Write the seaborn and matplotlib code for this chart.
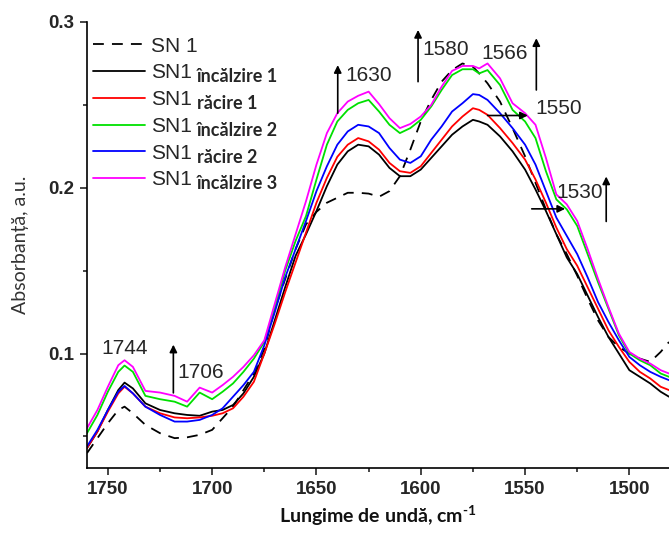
import matplotlib
matplotlib.use("Agg")
import matplotlib.pyplot as plt
import pandas as pd
import seaborn as sns
from matplotlib.ticker import FixedLocator

wavenumber = [
    1760, 1755, 1750, 1745, 1742, 1738, 1732, 1725, 1718, 1712, 1706, 1700, 1695, 1690,
    1685, 1680, 1675, 1670, 1665, 1660, 1655, 1650, 1645, 1640, 1635, 1630, 1625, 1620,
    1615, 1610, 1605, 1600, 1595, 1590, 1585, 1580, 1575, 1572, 1568, 1562, 1556, 1550,
    1545, 1540, 1535, 1530, 1525, 1520, 1515, 1510, 1505, 1500, 1495, 1490, 1485, 1481,
]

sn1 = [
    0.040, 0.049, 0.058, 0.066, 0.068, 0.064, 0.057, 0.052, 0.049, 0.0495, 0.051, 0.054, 0.061, 0.068,
    0.078, 0.088, 0.103, 0.1265, 0.145, 0.163, 0.178, 0.1855, 0.191, 0.194, 0.197, 0.197, 0.1965, 0.1946,
    0.198, 0.207, 0.223, 0.240, 0.253, 0.264, 0.271, 0.275, 0.273, 0.269, 0.263, 0.252, 0.236, 0.219,
    0.203, 0.187, 0.172, 0.160, 0.147, 0.133, 0.120, 0.110, 0.104, 0.100, 0.097, 0.095, 0.101, 0.107,
]
incalzire_1 = [
    0.043, 0.053, 0.066, 0.078, 0.0825, 0.079, 0.070, 0.066, 0.064, 0.063, 0.0625, 0.065, 0.066, 0.069,
    0.076, 0.086, 0.100, 0.120, 0.140, 0.159, 0.172, 0.186, 0.201, 0.214, 0.222, 0.226, 0.225, 0.220,
    0.212, 0.207, 0.207, 0.211, 0.218, 0.225, 0.232, 0.237, 0.241, 0.240, 0.238, 0.231, 0.222, 0.211,
    0.199, 0.186, 0.172, 0.158, 0.148, 0.135, 0.122, 0.110, 0.100, 0.090, 0.086, 0.082, 0.077, 0.074,
]
racire_1 = [
    0.043, 0.053, 0.065, 0.076, 0.080, 0.076, 0.068, 0.064, 0.0615, 0.061, 0.0615, 0.0625, 0.064, 0.067,
    0.074, 0.083, 0.100, 0.118, 0.137, 0.155, 0.173, 0.191, 0.206, 0.2187, 0.226, 0.230, 0.228, 0.223,
    0.215, 0.210, 0.209, 0.213, 0.221, 0.229, 0.237, 0.243, 0.248, 0.247, 0.244, 0.236, 0.227, 0.217,
    0.205, 0.191, 0.176, 0.163, 0.153, 0.140, 0.127, 0.114, 0.104, 0.095, 0.089, 0.085, 0.080, 0.078,
]
incalzire_2 = [
    0.052, 0.063, 0.077, 0.089, 0.0928, 0.089, 0.0745, 0.0725, 0.071, 0.068, 0.0765, 0.0725, 0.077, 0.082,
    0.089, 0.097, 0.107, 0.127, 0.150, 0.168, 0.183, 0.205, 0.226, 0.240, 0.247, 0.251, 0.253, 0.246,
    0.238, 0.233, 0.236, 0.241, 0.249, 0.259, 0.268, 0.2715, 0.2715, 0.269, 0.271, 0.262, 0.247, 0.240,
    0.230, 0.210, 0.193, 0.187, 0.177, 0.160, 0.143, 0.127, 0.111, 0.100, 0.096, 0.093, 0.088, 0.086,
]
racire_2 = [
    0.044, 0.054, 0.066, 0.077, 0.0805, 0.076, 0.068, 0.063, 0.059, 0.059, 0.060, 0.063, 0.067, 0.074,
    0.081, 0.089, 0.105, 0.125, 0.146, 0.163, 0.180, 0.198, 0.213, 0.226, 0.234, 0.238, 0.237, 0.233,
    0.224, 0.217, 0.215, 0.219, 0.229, 0.237, 0.246, 0.251, 0.2565, 0.256, 0.253, 0.245, 0.236, 0.226,
    0.214, 0.198, 0.182, 0.171, 0.160, 0.146, 0.131, 0.119, 0.108, 0.098, 0.093, 0.089, 0.086, 0.084,
]
incalzire_3 = [
    0.055, 0.066, 0.080, 0.093, 0.096, 0.092, 0.0775, 0.0765, 0.0745, 0.071, 0.0795, 0.0765, 0.081, 0.086,
    0.092, 0.099, 0.108, 0.130, 0.152, 0.172, 0.192, 0.214, 0.233, 0.245, 0.252, 0.2555, 0.258, 0.2505,
    0.242, 0.236, 0.2385, 0.243, 0.250, 0.261, 0.2705, 0.2735, 0.2735, 0.272, 0.275, 0.266, 0.251, 0.245,
    0.238, 0.218, 0.196, 0.190, 0.180, 0.163, 0.145, 0.128, 0.112, 0.101, 0.097, 0.094, 0.090, 0.088,
]

series_keys = ["SN 1", "incalzire 1", "racire 1", "incalzire 2", "racire 2", "incalzire 3"]
series_values = [sn1, incalzire_1, racire_1, incalzire_2, racire_2, incalzire_3]
legend_main = ["SN 1", "SN1", "SN1", "SN1", "SN1", "SN1"]
legend_sub = ["", "încălzire 1", "răcire 1", "încălzire 2", "răcire 2", "încălzire 3"]
palette = dict(zip(series_keys, ["black", "black", "#ff0000", "#00e000", "#0000ff", "#ff00ff"]))
dashes = dict(zip(series_keys, [(6, 4.5), "", "", "", "", ""]))

# peak labels: text, text position, arrow start, arrow end
peak_labels = [
    ("1744", (1741.8, 0.103), None, None),
    ("1706", (1705.6, 0.0886), (1718.6, 0.0763), (1718.6, 0.1054)),
    ("1630", (1625.0, 0.268), (1639.8, 0.245), (1639.8, 0.274)),
    ("1580", (1588.0, 0.2834), (1601.3, 0.264), (1601.3, 0.2952)),
    ("1566", (1560.0, 0.2811), (1544.6, 0.259), (1544.6, 0.2902)),
    ("1550", (1533.7, 0.2476), (1568.0, 0.2436), (1548.7, 0.2436)),
    ("1530", (1523.6, 0.1973), (1546.8, 0.1873), (1530.8, 0.1873)),
    ("", None, (1511.1, 0.1797), (1511.1, 0.2068)),
]

df = pd.concat(
    [pd.DataFrame({"wn": wavenumber, "abs": vals, "series": key}) for key, vals in zip(series_keys, series_values)],
    ignore_index=True,
)

sns.set_style("ticks")
plt.rcParams["font.family"] = ["Liberation Sans", "DejaVu Sans"]
plt.rcParams["mathtext.fontset"] = "custom"
plt.rcParams["mathtext.rm"] = "Lato:bold"
plt.rcParams["mathtext.bf"] = "Lato:bold"

fig = plt.figure(figsize=(6.69, 5.34), dpi=100)
ax = fig.add_axes([87 / 669, 66 / 534, 582 / 669, 446 / 534])

sns.lineplot(
    data=df, x="wn", y="abs", hue="series", style="series", palette=palette, dashes=dashes,
    sort=False, estimator=None, linewidth=1.3, legend=False, ax=ax,
)

ax.set_xlim(1760, 1481)
ax.set_ylim(0.031, 0.3)
ax.xaxis.set_major_locator(FixedLocator([1750, 1700, 1650, 1600, 1550, 1500]))
ax.xaxis.set_minor_locator(FixedLocator([1725, 1675, 1625, 1575, 1525]))
ax.yaxis.set_major_locator(FixedLocator([0.1, 0.2, 0.3]))
ax.yaxis.set_minor_locator(FixedLocator([0.05, 0.15, 0.25]))
ax.set_yticklabels(["0.1", "0.2", "0.3"])
ax.tick_params(which="major", direction="out", length=5, width=1.2, labelsize=13.5, pad=4)
ax.tick_params(which="minor", direction="out", length=3, width=1.2)
for lab in ax.get_xticklabels() + ax.get_yticklabels():
    lab.set_fontweight("bold")

for side in ["top", "right"]:
    ax.spines[side].set_visible(False)
for side in ["left", "bottom"]:
    ax.spines[side].set_linewidth(1.2)
    ax.spines[side].set_color("black")

ax.set_xlabel("Lungime de undă, cm$^{\\text{-1}}$", family="Lato", fontweight="bold", fontsize=14,
              color="#111111", labelpad=4)
ax.set_ylabel("Absorbanță, a.u.", family="Lato", fontsize=14, color="#333333", labelpad=14)

for text, pos, start, end in peak_labels:
    if text:
        ax.text(pos[0], pos[1], text, fontsize=15, ha="center", va="center")
    if start is not None:
        ax.annotate(
            "", xy=end, xytext=start,
            arrowprops=dict(arrowstyle="-|>", color="black", lw=1.2, mutation_scale=11, shrinkA=0, shrinkB=0),
        )

leg = ax.legend(
    handles=ax.get_lines()[:6], labels=legend_main, loc="upper left",
    bbox_to_anchor=(0.01, 0.967), borderaxespad=0, borderpad=0, frameon=False,
    fontsize=15, handlelength=2.5, handletextpad=0.3, labelspacing=0.37,
)

fig.canvas.draw()
renderer = fig.canvas.get_renderer()
W, H = fig.bbox.width, fig.bbox.height
for txt, sub in zip(leg.get_texts(), legend_sub):
    if not sub:
        continue
    bb = txt.get_window_extent(renderer)
    fig.text((bb.x1 + 5) / W, (bb.y0 - 3) / H, sub, family="Lato", fontweight="bold", fontsize=13, va="bottom")

fig.savefig("out.png", dpi=100)
